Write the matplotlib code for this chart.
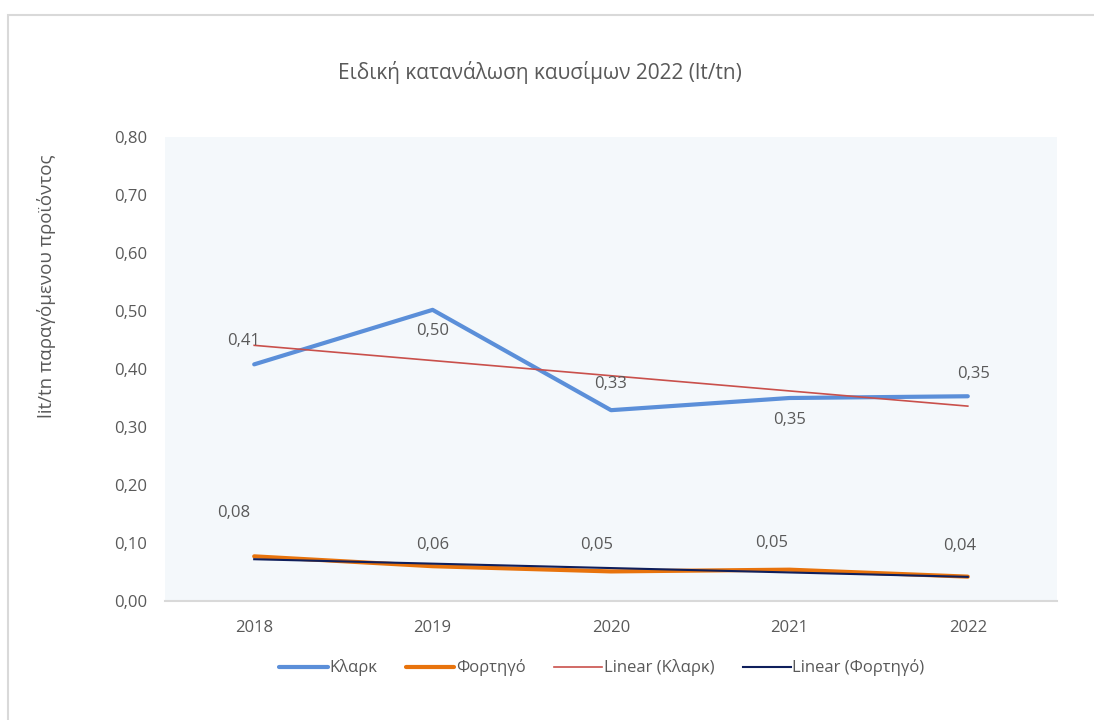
"""Ειδική κατανάλωση καυσίμων 2022 - Excel-style line chart with trendlines."""

import matplotlib

matplotlib.use("Agg")
import matplotlib.pyplot as plt
import numpy as np
from matplotlib.patches import Rectangle

years = ["2018", "2019", "2020", "2021", "2022"]
klark = [0.408, 0.502, 0.329, 0.350, 0.353]
fortigo = [0.077, 0.060, 0.051, 0.054, 0.042]
klark_labels = ["0,41", "0,50", "0,33", "0,35", "0,35"]
fortigo_labels = ["0,08", "0,06", "0,05", "0,05", "0,04"]
yticks = [0.0, 0.1, 0.2, 0.3, 0.4, 0.5, 0.6, 0.7, 0.8]

TEXT = "#595959"
plt.rcParams["font.family"] = ["Open Sans", "DejaVu Sans"]

fig = plt.figure(figsize=(10.94, 7.2), dpi=100)
fig.patch.set_facecolor("white")
# chart-area frame, running off the right and bottom edges like the screenshot
fig.add_artist(Rectangle((8 / 1094, -0.01), 1.2, (720 - 15) / 720 + 0.01,
                         transform=fig.transFigure, fill=False,
                         ec="#d9d9d9", lw=1.5))

ax = fig.add_axes([165 / 1094, 119 / 720, 892 / 1094, 464 / 720])
ax.set_facecolor("#f4f8fb")
x = np.arange(len(years))

ax.plot(x, klark, color="#5b8fd9", lw=3.0, solid_capstyle="round", label="Κλαρκ", zorder=3)
ax.plot(x, fortigo, color="#e8730c", lw=3.0, solid_capstyle="round", label="Φορτηγό", zorder=3)

# linear trendlines, fitted the way Excel does
kf = np.polyfit(x, klark, 1)
ff = np.polyfit(x, fortigo, 1)
ax.plot(x, np.polyval(kf, x), color="#c9504b", lw=1.2, label="Linear (Κλαρκ)", zorder=4)
ax.plot(x, np.polyval(ff, x), color="#0f1f5c", lw=1.5, label="Linear (Φορτηγό)", zorder=4)

# data labels, offsets (points) mimic Excel's placement
k_off = [(-8, 17), (0, -15), (0, 19), (0, -16), (4, 16)]
f_off = [(-15, 31), (0, 15), (-10, 19), (-13, 19), (-6, 22)]
for i in range(len(years)):
    ax.annotate(klark_labels[i], (x[i], klark[i]), xytext=k_off[i], textcoords="offset points",
                ha="center", va="center", fontsize=12, color=TEXT, zorder=5)
    ax.annotate(fortigo_labels[i], (x[i], fortigo[i]), xytext=f_off[i], textcoords="offset points",
                ha="center", va="center", fontsize=12, color=TEXT, zorder=5)

ax.set_xlim(-0.5, len(years) - 0.5)
ax.set_ylim(0, 0.8)
ax.set_yticks(yticks)
ax.set_yticklabels([f"{v:.2f}".replace(".", ",") for v in yticks])
ax.set_xticks(x)
ax.set_xticklabels(years)
ax.tick_params(length=0, labelsize=12, labelcolor=TEXT)
ax.tick_params(axis="y", pad=13)
ax.tick_params(axis="x", pad=14)
for side in ("top", "right", "left"):
    ax.spines[side].set_visible(False)
ax.spines["bottom"].set_color("#d9d9d9")
ax.spines["bottom"].set_linewidth(1.5)

fig.text(47 / 1094, 1 - 286 / 720, "lit/tn παραγόμενου προϊόντος", rotation=90,
         ha="center", va="center", fontsize=13.5, color=TEXT)
fig.text(540 / 1094, 1 - 73 / 720, "Ειδική κατανάλωση καυσίμων 2022 (lt/tn)",
         ha="center", va="center", fontsize=15, color=TEXT)

fig.legend(loc="center", bbox_to_anchor=(602 / 1094, 1 - 668 / 720), ncol=4,
           frameon=False, fontsize=12, labelcolor=TEXT, handlelength=2.9,
           handletextpad=0.1, columnspacing=1.7)

fig.savefig("out.png", dpi=100, facecolor=fig.get_facecolor())
